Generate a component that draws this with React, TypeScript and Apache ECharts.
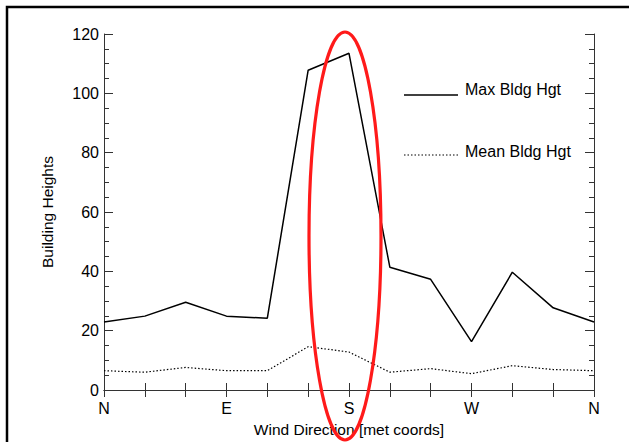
import React, { useEffect, useRef } from "react";
import * as echarts from "echarts";

const directions = ["N", "", "", "E", "", "", "S", "", "", "W", "", "", "N"];
const maxBldgHgt = [22.9, 24.9, 29.6, 24.9, 24.2, 107.8, 113.5, 41.4, 37.3, 16.3, 39.7, 27.7, 22.9];
const meanBldgHgt = [6.5, 6.0, 7.6, 6.5, 6.5, 14.6, 12.8, 6.0, 7.2, 5.5, 8.2, 6.9, 6.5];
const seriesNames = ["Max Bldg Hgt", "Mean Bldg Hgt"];

const FONT = "'Liberation Sans', Arial, sans-serif";
const AX = "#333";

export default function App() {
  const ref = useRef<HTMLDivElement>(null);
  useEffect(() => {
    if (!ref.current) return;
    const chart = echarts.init(ref.current, undefined, { renderer: "svg" });
    const catAxisBase = {
      type: "category" as const,
      data: directions,
      boundaryGap: false,
      axisLine: { show: true, lineStyle: { color: AX, width: 1 } },
      axisTick: { show: true, inside: true, length: 7, interval: 0, lineStyle: { color: AX } },
      splitLine: { show: false },
    };
    const valAxisBase = {
      type: "value" as const,
      min: 0,
      max: 120,
      interval: 20,
      axisLine: { show: true, lineStyle: { color: AX, width: 1 } },
      axisTick: { show: true, inside: true, length: 9, lineStyle: { color: AX } },
      minorTick: { show: true, splitNumber: 4, length: 5, lineStyle: { color: AX } },
      splitLine: { show: false },
    };
    chart.setOption({
      animation: false,
      backgroundColor: "#fff",
      grid: { left: 104, right: 35, top: 34, bottom: 46 },
      xAxis: [
        {
          ...catAxisBase,
          position: "bottom",
          name: "Wind Direction [met coords]",
          nameLocation: "middle",
          nameGap: 31,
          nameTextStyle: { fontFamily: FONT, fontSize: 15.5, color: "#000" },
          axisLabel: { interval: 0, fontFamily: FONT, fontSize: 16, color: "#000", margin: 10 },
        },
        {
          ...catAxisBase,
          position: "top",
          axisLabel: { show: false },
        },
      ],
      yAxis: [
        {
          ...valAxisBase,
          position: "left",
          name: "Building Heights",
          nameLocation: "middle",
          nameGap: 49,
          nameTextStyle: { fontFamily: FONT, fontSize: 15.5, color: "#000" },
          axisLabel: { fontFamily: FONT, fontSize: 16, color: "#000", margin: 5 },
        },
        {
          ...valAxisBase,
          position: "right",
          axisLabel: { show: false },
        },
      ],
      series: [
        {
          name: seriesNames[0],
          type: "line",
          data: maxBldgHgt,
          symbol: "none",
          lineStyle: { color: "#000", width: 1.5 },
        },
        {
          name: seriesNames[1],
          type: "line",
          data: meanBldgHgt,
          symbol: "none",
          lineStyle: { color: "#000", width: 1.2, type: [1.5, 2] },
        },
      ],
      graphic: [
        {
          type: "rect",
          shape: { x: 7, y: 7, width: 700, height: 500 },
          style: { fill: "none", stroke: "#000", lineWidth: 2.5 },
          z: 100,
        },
        {
          type: "line",
          shape: { x1: 404, y1: 95, x2: 458, y2: 95 },
          style: { stroke: "#000", lineWidth: 1.5 },
        },
        {
          type: "text",
          x: 465,
          y: 89,
          style: { text: seriesNames[0], font: `16px ${FONT}`, fill: "#000", textVerticalAlign: "middle" },
        },
        {
          type: "line",
          shape: { x1: 404, y1: 155, x2: 458, y2: 155 },
          style: { stroke: "#000", lineWidth: 1.2, lineDash: [1.5, 2] },
        },
        {
          type: "text",
          x: 465,
          y: 151,
          style: { text: seriesNames[1], font: `16px ${FONT}`, fill: "#000", textVerticalAlign: "middle" },
        },
        {
          type: "ellipse",
          shape: { cx: 345, cy: 236, rx: 36, ry: 204 },
          style: { fill: "none", stroke: "#ff1a1a", lineWidth: 3.2 },
          z: 100,
        },
      ],
    });
    return () => chart.dispose();
  }, []);
  return (
    <div
      ref={ref}
      style={{ position: "fixed", left: 0, top: 0, width: 629, height: 442, background: "#fff" }}
    />
  );
}
